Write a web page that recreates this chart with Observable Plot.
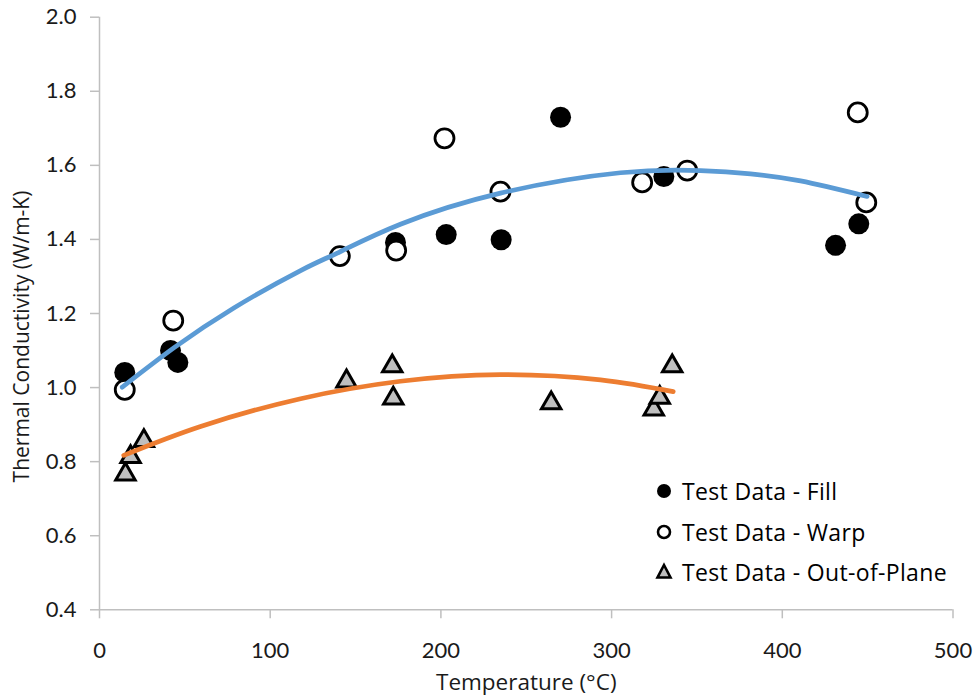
<!DOCTYPE html>
<html>
<head>
<meta charset="utf-8">
<script src="https://cdn.jsdelivr.net/npm/d3@7"></script>
<script src="https://cdn.jsdelivr.net/npm/@observablehq/plot@0.6"></script>
<style>
  body { margin: 0; background: #fff; }
  #wrap { position: relative; width: 974px; height: 696px; }
  #legend { position: absolute; left: 652px; top: 471px; font-family: "Open Sans", Lato, sans-serif; font-size: 23px; letter-spacing: 0.35px; color: #000; }
  #legend .row { display: flex; align-items: center; height: 40.5px; }
  #legend svg { width: 24px; height: 24px; margin-right: 6px; }
</style>
</head>
<body>
<div id="wrap"></div>
<script>
// Test Data - Fill
const fillX = [14.8, 41.6, 45.9, 173.4, 203.1, 235.3, 270.1, 330.6, 431.2, 444.8];
const fillY = [1.041, 1.100, 1.068, 1.392, 1.413, 1.399, 1.730, 1.570, 1.384, 1.442];
// Test Data - Warp
const warpX = [14.8, 43.2, 140.8, 173.8, 202.1, 234.9, 317.9, 344.3, 444.2, 449.2];
const warpY = [0.994, 1.181, 1.355, 1.370, 1.673, 1.529, 1.554, 1.586, 1.743, 1.500];
// Test Data - Out-of-Plane
const oopX = [15.2, 18.2, 26.0, 144.7, 171.5, 172.1, 264.6, 324.7, 328.2, 335.5];
const oopY = [0.774, 0.821, 0.864, 1.025, 1.066, 0.979, 0.966, 0.949, 0.981, 1.066];
// Trend lines
const blueX = [13.3, 43.5, 78.7, 117.8, 140.6, 176.3, 234.9, 305.2, 352.1, 381.4, 410.7, 449.7];
const blueY = [1.001, 1.107, 1.215, 1.316, 1.366, 1.441, 1.525, 1.580, 1.586, 1.577, 1.558, 1.516];
const orangeX = [14.2, 59.2, 117.8, 176.3, 234.9, 293.5, 336.1];
const orangeY = [0.817, 0.895, 0.970, 1.017, 1.035, 1.021, 0.989];
// Axes
const xTicks = [0, 100, 200, 300, 400, 500];
const yTicks = [0.4, 0.6, 0.8, 1.0, 1.2, 1.4, 1.6, 1.8, 2.0];
const legendLabels = ["Test Data - Fill", "Test Data - Warp", "Test Data - Out-of-Plane"];
const xTitle = "Temperature (°C)";
const yTitle = "Thermal Conductivity (W/m-K)";

const pts = (xs, ys) => xs.map((x, i) => ({x, y: ys[i]}));
const fill = pts(fillX, fillY);
const warp = pts(warpX, warpY);
const oop = pts(oopX, oopY);
const blue = pts(blueX, blueY);
const orange = pts(orangeX, orangeY);

const axisColor = "#bfbfbf";
const textColor = "#1a1a1a";
const chart = Plot.plot({
  width: 974,
  height: 696,
  marginLeft: 99,
  marginRight: 21.5,
  marginTop: 16.7,
  marginBottom: 86.7,
  x: {domain: [0, 500]},
  y: {domain: [0.4, 2.0]},
  style: {fontFamily: "Lato, sans-serif", background: "white"},
  marks: [
    Plot.ruleX([0], {y1: 0.4, y2: 2.0, stroke: axisColor, strokeWidth: 1.5}),
    Plot.ruleY([0.4], {x1: 0, x2: 500, stroke: axisColor, strokeWidth: 1.5}),
    Plot.axisY(yTicks, {tickSize: 9, tickPadding: 14, stroke: axisColor, strokeWidth: 1.5,
      tickFormat: d3.format(".1f"), fontSize: 22, fontFamily: "Lato", fill: textColor, label: null}),
    Plot.axisX(xTicks, {tickSize: 9, tickPadding: 24, stroke: axisColor, strokeWidth: 1.5,
      fontSize: 22, fontFamily: "Lato", fill: textColor, label: null}),
    Plot.text([xTitle], {frameAnchor: "bottom", dy: 80, fontSize: 22.5, fontFamily: "Open Sans", fill: textColor}),
    Plot.text([yTitle], {frameAnchor: "left", textAnchor: "middle", rotate: -90, dx: -77, dy: 23, fontSize: 21, fontFamily: "Open Sans", fill: textColor}),
    Plot.dot(fill, {x: "x", y: "y", r: 10.5, fill: "black", stroke: "none"}),
    Plot.dot(warp, {x: "x", y: "y", r: 9.5, fill: "white", stroke: "black", strokeWidth: 2.8}),
    Plot.dot(oop, {x: "x", y: "y", symbol: "triangle", r: 7.2, dy: 3, fill: "#bfbfbf", stroke: "black", strokeWidth: 3}),
    Plot.line(blue, {x: "x", y: "y", curve: "natural", stroke: "#5b9bd5", strokeWidth: 4.7, strokeLinecap: "round"}),
    Plot.line(orange, {x: "x", y: "y", curve: "natural", stroke: "#ed7d31", strokeWidth: 4.7, strokeLinecap: "round"})
  ]
});
const wrap = document.getElementById("wrap");
wrap.appendChild(chart);

// Legend (HTML overlay)
const legend = document.createElement("div");
legend.id = "legend";
const icons = [
  '<circle cx="12" cy="12" r="7" fill="black"/>',
  '<circle cx="12" cy="12" r="6" fill="white" stroke="black" stroke-width="2.6"/>',
  '<path d="M12,5 L18.5,17.5 L5.5,17.5 Z" fill="#bfbfbf" stroke="black" stroke-width="2.6"/>'
];
legendLabels.forEach((lab, i) => {
  const row = document.createElement("div");
  row.className = "row";
  row.innerHTML = '<svg viewBox="0 0 24 24">' + icons[i] + '</svg><span>' + lab + '</span>';
  legend.appendChild(row);
});
wrap.appendChild(legend);
</script>
</body>
</html>
